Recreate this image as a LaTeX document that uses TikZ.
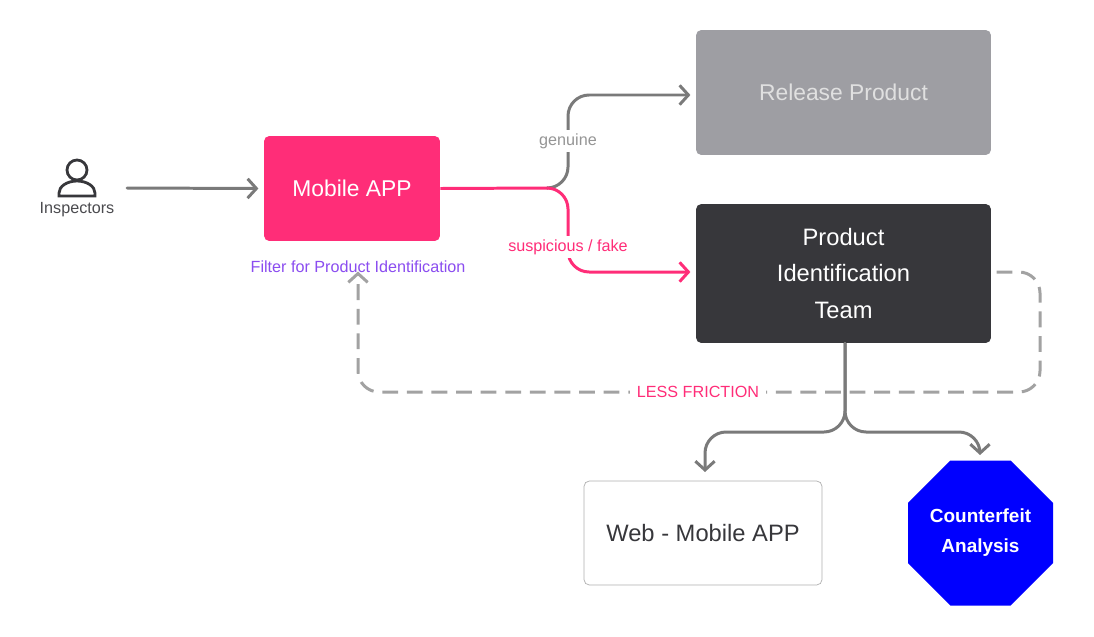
\documentclass[tikz,border=0pt]{standalone}
\usepackage{fontspec}
\setmainfont{Liberation Sans}
\usetikzlibrary{arrows.meta,shapes.geometric}
\definecolor{appPink}{HTML}{FF2D78}
\definecolor{flowGray}{HTML}{7A7A7A}
\definecolor{relGray}{HTML}{9E9EA3}
\definecolor{teamDark}{HTML}{37373B}
\definecolor{filterViolet}{HTML}{8B4DF0}
\begin{document}
\begin{tikzpicture}[x=0.02cm,y=-0.02cm]
\tikzstyle{box_style} = [rounded corners=3pt, inner sep=0pt, align=center]
\tikzstyle{flow_style} = [line width=1.7pt, rounded corners=12pt, line cap=round, -{Straight Barb[length=5pt,width=11pt,line width=1.7pt]}]
\tikzstyle{label_style} = [font=\fontsize{9.2}{11}\selectfont, fill=white, inner sep=2pt]
    \useasboundingbox (0,0) rectangle (1094,636);

    % actor
    \draw[teamDark, line width=1.6pt] (77,170) circle (10);
    \draw[teamDark, line width=1.6pt] (59,196) -- (59,193) arc (180:360:18 and 12) -- (95,196) -- cycle;
    \node[label_style, text=teamDark!90] (insp) at (77,210) {Inspectors};
    \coordinate (inspR) at (127,188);

    % boxes
    \node[box_style, fill=appPink, text=white, minimum width=3.52cm, minimum height=2.1cm,
          font=\fontsize{13}{15}\selectfont] (app) at (352,188.5) {Mobile APP};
    \node[label_style, text=filterViolet] (filter) at (358,267) {Filter for Product Identification};
    \node[box_style, fill=relGray, text=white!88!black, minimum width=5.9cm, minimum height=2.5cm,
          font=\fontsize{13}{15}\selectfont] (rel) at (843.5,92.5) {Release Product};
    \node[box_style, fill=teamDark, text=white, minimum width=5.9cm, minimum height=2.78cm,
          font=\fontsize{13.5}{20.5}\selectfont] (team) at (843.5,273.5) {Product\\Identification\\Team};
    \node[box_style, draw=flowGray!60, fill=white, text=teamDark, minimum width=4.76cm, minimum height=2.08cm,
          font=\fontsize{13.5}{15}\selectfont] (web) at (703,533) {Web - Mobile APP};
    \node[regular polygon, regular polygon sides=8, minimum size=3.14cm, inner sep=0pt, fill=blue, text=white,
          align=center, font=\bfseries\fontsize{10.8}{17}\selectfont] (fake) at (980.5,533) {Counterfeit\\Analysis};

    % connectors
    \draw[flow_style, flowGray] (inspR) -- ([xshift=-3]app.west);
    \draw[line width=1.7pt, appPink] (app.east) -- (548,188);
    \draw[flow_style, flowGray] (548,188) -- (568,188) -- (568,95) -- ([xshift=-3]rel.west |- 0,95);
    \draw[flow_style, appPink] (548,188) -- (568,188) -- (568,272) -- ([xshift=-3]team.west |- 0,272);
    \node[label_style, text=flowGray!80] (gen) at (568,141) {genuine};
    \node[label_style, text=appPink] (susp) at (568,247) {suspicious / fake};

    \draw[flow_style, flowGray!70, dash pattern=on 9pt off 5pt, line cap=butt]
        ([xshift=3]team.east |- 0,272) -- (1040,272) -- (1040,392) -- (358,392) -- ([yshift=3]filter.south -| 358,0);
    \node[label_style, text=appPink, inner xsep=4pt] (fric) at (698,392) {LESS FRICTION};

    \coordinate (fork) at (845,432);
    \draw[flow_style, flowGray] (team.south -| 845,0) -- (fork) -- (705,432) -- (705,472);
    \draw[flow_style, flowGray] (team.south -| 845,0) -- (fork) -- (980,432) -- (980,455);
\end{tikzpicture}
\end{document}
